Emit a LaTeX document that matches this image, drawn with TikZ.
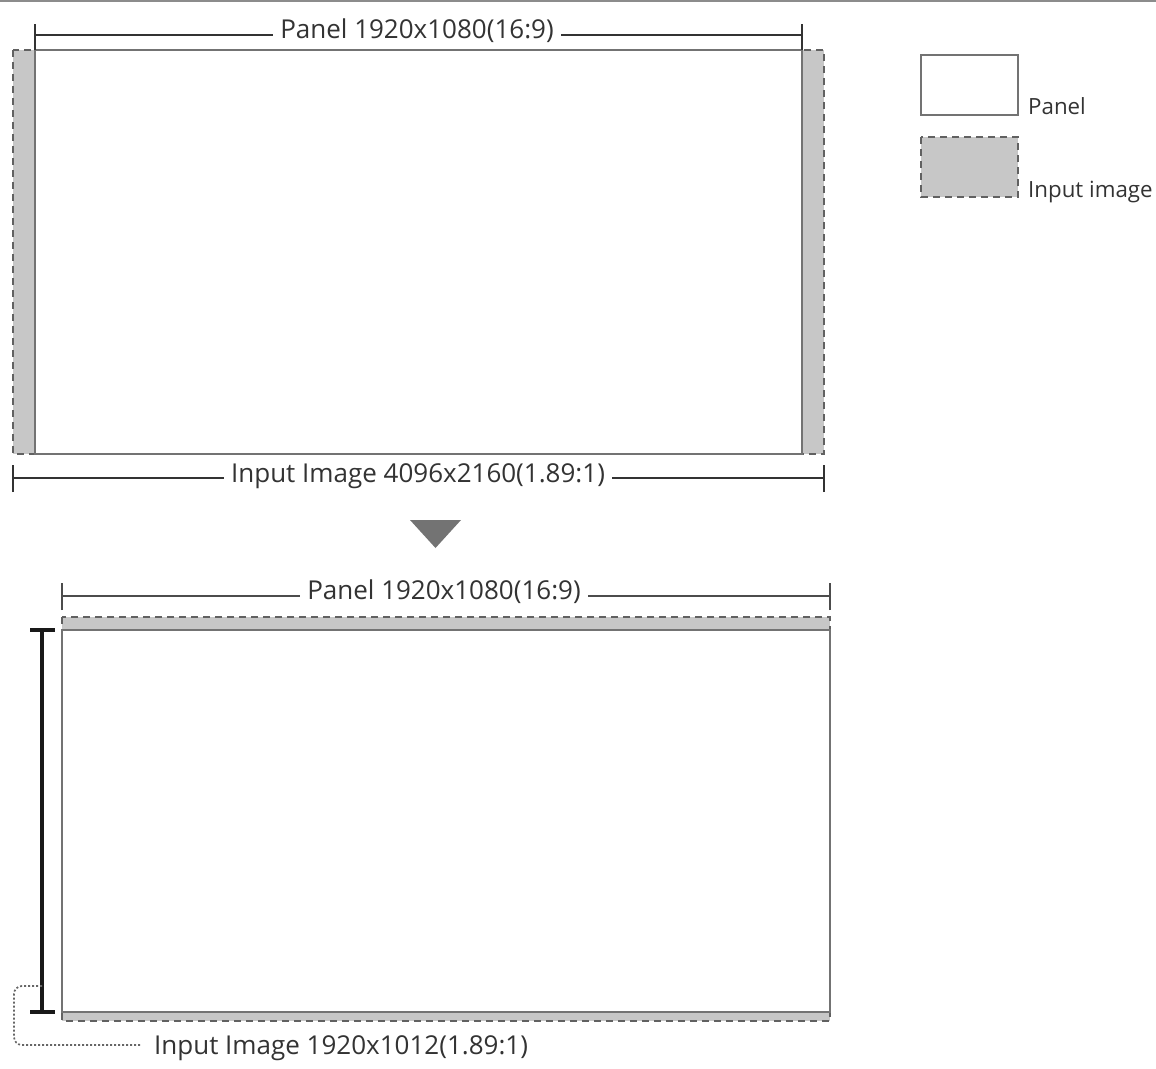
\documentclass[tikz,border=0pt]{standalone}
\usepackage{fontspec}
\setmainfont{Open Sans}
\begin{document}
\begin{tikzpicture}[x=1pt,y=-1pt,
  panelbox/.style={draw=black!55,line width=2pt,fill=white},
  imgbox/.style={draw=black!62,line width=2pt,dash pattern=on 7pt off 5pt,fill=black!22},
  dimline/.style={draw=black!80,line width=2.8pt},
  dimthin/.style={draw=black!70,line width=1.9pt},
  dimvert/.style={draw=black!90,line width=3.2pt},
  lbl/.style={font=\fontsize{26}{30}\selectfont,text=black!80,inner sep=0pt},
  leglbl/.style={font=\fontsize{22.3}{26}\selectfont,text=black!80,inner sep=0pt},
  gaplbl/.style={lbl,fill=white,inner xsep=7pt,inner ysep=2pt},
  leader/.style={draw=black!60,line width=1.7pt,dash pattern=on 2pt off 2pt,rounded corners=8pt}]
\useasboundingbox (0,0) rectangle (1156,1068);
% top rule
\draw[black!45,line width=2.4pt] (0,1) -- (1156,1);

% ===== top diagram =====
\filldraw[imgbox] (13,50) rectangle (824,454);
\filldraw[panelbox] (35,50) rectangle (802,454);
% panel dimension
\coordinate (p1a) at (35,35);
\coordinate (p1b) at (802,35);
\draw[dimline] (p1a) -- (p1b);
\draw[dimline] ([yshift=-15pt]p1a) -- ([yshift=11pt]p1a);
\draw[dimline] ([yshift=-15pt]p1b) -- ([yshift=11pt]p1b);
\node[gaplbl] (t1) at (417,31) {Panel 1920x1080(16:9)};
% input dimension
\coordinate (i1a) at (13,478);
\coordinate (i1b) at (824,478);
\draw[dimline] (i1a) -- (i1b);
\draw[dimline] ([yshift=-14pt]i1a) -- ([yshift=13pt]i1a);
\draw[dimline] ([yshift=-14pt]i1b) -- ([yshift=13pt]i1b);
\node[gaplbl] (t2) at (418,476) {Input Image 4096x2160(1.89:1)};

% arrow triangle
\fill[black!55] (410,520) -- (461,520) -- (435.5,548) -- cycle;

% ===== bottom diagram =====
\filldraw[imgbox] (62,617) rectangle (830,1021);
\filldraw[panelbox] (62,630) rectangle (830,1012);
\coordinate (p2a) at (62,596);
\coordinate (p2b) at (830,596);
\draw[dimthin] (p2a) -- (p2b);
\draw[dimthin] ([yshift=-14pt]p2a) -- ([yshift=13pt]p2a);
\draw[dimthin] ([yshift=-14pt]p2b) -- ([yshift=13pt]p2b);
\node[gaplbl] (t3) at (444,592) {Panel 1920x1080(16:9)};
% vertical dimension
\coordinate (va) at (42,630);
\coordinate (vb) at (42,1012);
\draw[dimvert] (va) -- (vb);
\draw[dimvert] ([xshift=-12pt]va) -- ([xshift=13pt]va);
\draw[dimvert] ([xshift=-12pt]vb) -- ([xshift=13pt]vb);
\coordinate (vm) at (42,986);
\node[lbl,anchor=west] (t4) at (154,1048) {Input Image 1920x1012(1.89:1)};
\draw[leader] (vm) -- (14,986) -- (14,1045) -- ([xshift=-13pt]t4.west |- 0,1045);

% ===== legend =====
\filldraw[panelbox,line width=1.6pt] (921,55) rectangle (1018,115);
\node[leglbl,anchor=base west] (l1) at (1028,114) {Panel};
\filldraw[imgbox,line width=1.6pt] (921,137) rectangle (1018,197);
\node[leglbl,anchor=base west] (l2) at (1028,197) {Input image};
\end{tikzpicture}
\end{document}
